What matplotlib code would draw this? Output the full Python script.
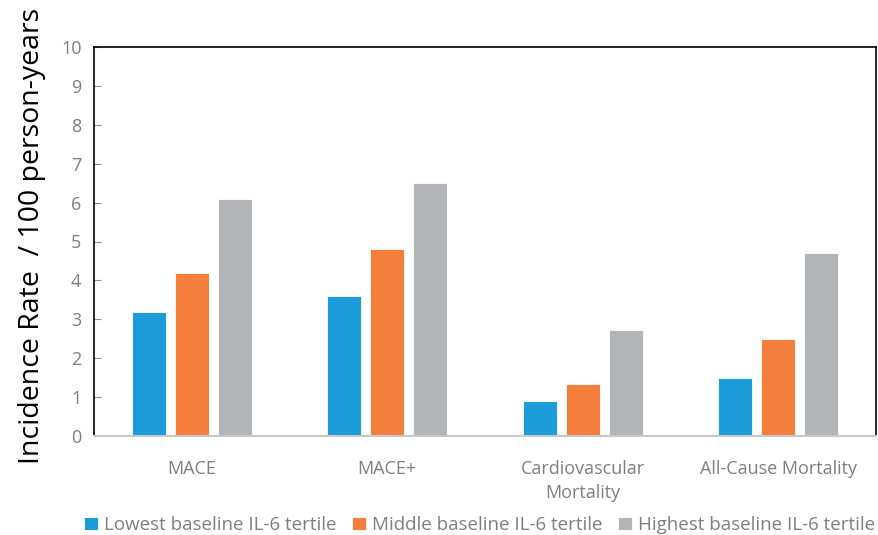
import matplotlib.pyplot as plt
import numpy as np

plt.rcParams['font.family'] = ['Open Sans', 'DejaVu Sans']

# incidence rates per 100 person-years, by IL-6 tertile
categories = ['MACE', 'MACE+', 'Cardiovascular\nMortality', 'All-Cause Mortality']
lowest = [3.2, 3.6, 0.9, 1.5]
middle = [4.2, 4.8, 1.33, 2.5]
highest = [6.1, 6.5, 2.73, 4.7]
series_names = ['Lowest baseline IL-6 tertile', 'Middle baseline IL-6 tertile',
                'Highest baseline IL-6 tertile']
colors = ['#1c9cd8', '#f47f3d', '#b3b4b8']

fig = plt.figure(figsize=(8.79, 5.35), dpi=100)
ax = fig.add_axes([94 / 879, 1 - 436 / 535, 782 / 879, 389 / 535])

x = np.arange(len(categories))
width = 0.174
step = 0.22
for i, (vals, name, c) in enumerate(zip([lowest, middle, highest], series_names, colors)):
    ax.bar(x + (i - 1) * step, vals, width, color=c, label=name,
           edgecolor='white', linewidth=0.6)

ax.set_xlim(-0.5, len(categories) - 0.5)
ax.set_ylim(0, 10)
ax.set_yticks(range(0, 11))
ax.set_xticks(x)
ax.set_xticklabels(categories, fontsize=13, color='#7f7f7f', linespacing=1.45)
ax.tick_params(axis='y', direction='in', length=5, color='#8c8c8c', labelsize=13,
               labelcolor='#7f7f7f', pad=9)
ax.tick_params(axis='x', length=0, pad=17)

for s in ['top', 'left', 'right']:
    ax.spines[s].set_color('black')
    ax.spines[s].set_linewidth(1.2)
ax.spines['bottom'].set_color('#c8c8c8')
ax.spines['bottom'].set_linewidth(1.5)

ax.set_ylabel('Incidence Rate  / 100 person-years', fontsize=20.5, color='black')
ax.yaxis.set_label_coords(-0.062, 0.515)

fig.legend(loc='center left', bbox_to_anchor=(84 / 879, 1 - 525 / 535), ncol=3, frameon=False,
           fontsize=13.5, labelcolor='#7f7f7f', handlelength=0.75, handleheight=0.75,
           handletextpad=0.3, columnspacing=0.85, borderaxespad=0, borderpad=0)

fig.savefig('out.png', dpi=100)
